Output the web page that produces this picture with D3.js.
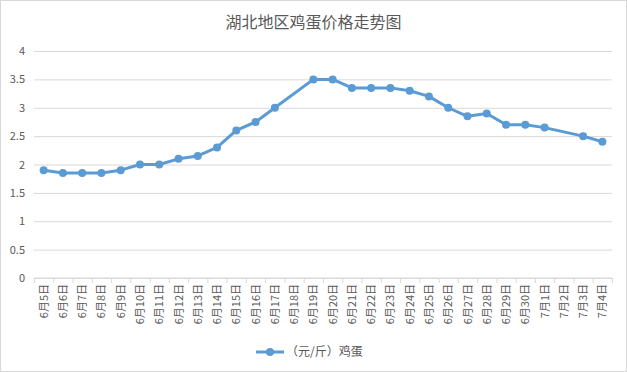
<!DOCTYPE html>
<html>
<head>
<meta charset="utf-8">
<script src="https://cdn.jsdelivr.net/npm/d3@7"></script>
<style>
  body { margin: 0; background: #fff; }
  text { font-family: "Noto Sans CJK SC", "Noto Sans", sans-serif; fill: #595959; }
</style>
</head>
<body>
<div id="chart"></div>
<script>
// categories along the bottom, one per day
const dates = ["6月5日","6月6日","6月7日","6月8日","6月9日","6月10日","6月11日","6月12日","6月13日","6月14日",
  "6月15日","6月16日","6月17日","6月18日","6月19日","6月20日","6月21日","6月22日","6月23日","6月24日",
  "6月25日","6月26日","6月27日","6月28日","6月29日","6月30日","7月1日","7月2日","7月3日","7月4日"]
// price in yuan per jin, null = no reading that day
const prices = [1.9,1.85,1.85,1.85,1.9,2.0,2.0,2.1,2.15,2.3,
  2.6,2.75,3.0,null,3.5,3.5,3.35,3.35,3.35,3.3,
  3.2,3.0,2.85,2.9,2.7,2.7,2.65,null,2.5,2.4]
const yTicks = [0,0.5,1,1.5,2,2.5,3,3.5,4]
const seriesName = "（元/斤）鸡蛋"
const title = "湖北地区鸡蛋价格走势图"

const W = 627, H = 372
const margin = {top: 51, right: 15, bottom: 94, left: 34}
const width = W - margin.left - margin.right
const height = H - margin.top - margin.bottom
const blue = "#5B9BD5"

const svg = d3.select("#chart").append("svg")
    .attr("width", W).attr("height", H)

// outer chart border
svg.append("rect")
    .attr("x", 0.5).attr("y", 0.5)
    .attr("width", W - 1).attr("height", H - 1)
    .attr("fill", "#fff").attr("stroke", "#d9d9d9")

svg.append("text")
    .attr("x", W / 2).attr("y", 28)
    .attr("text-anchor", "middle")
    .style("font-size", "16px")
    .text(title)

const g = svg.append("g").attr("transform", `translate(${margin.left},${margin.top})`)

const x = d3.scaleBand().domain(dates).range([0, width])
const y = d3.scaleLinear().domain([0, 4]).range([height, 0])

// gridlines
g.append("g")
    .call(d3.axisLeft(y).tickValues(yTicks).tickSize(-width).tickFormat(""))
    .call(s => s.select(".domain").remove())
    .selectAll("line").attr("stroke", "#d9d9d9")

// y labels
g.append("g")
    .call(d3.axisLeft(y).tickValues(yTicks).tickSize(0).tickPadding(9).tickFormat(d3.format("")))
    .call(s => s.select(".domain").remove())
    .selectAll("text").style("font-size", "11px").attr("fill", "#595959")

// x axis: ticks sit between categories
const xg = g.append("g").attr("transform", `translate(0,${height})`)
xg.append("line").attr("x1", 0).attr("x2", width).attr("stroke", "#d9d9d9")
xg.selectAll("line.tick")
  .data(dates.concat(["end"]))
  .enter().append("line")
    .attr("x1", (d, i) => i * x.bandwidth() + 0.5)
    .attr("x2", (d, i) => i * x.bandwidth() + 0.5)
    .attr("y1", 0).attr("y2", 5)
    .attr("stroke", "#d9d9d9")
xg.selectAll("text")
  .data(dates)
  .enter().append("text")
    .attr("transform", d => `translate(${x(d) + x.bandwidth() / 2 + 4},6)rotate(-90)`)
    .attr("text-anchor", "end")
    .style("font-size", "11px")
    .text(d => d)

// line, connecting across missing days
const pts = dates.map((d, i) => ({d, v: prices[i]})).filter(p => p.v != null)
const line = d3.line()
    .x(p => x(p.d) + x.bandwidth() / 2)
    .y(p => y(p.v))

g.append("path")
    .datum(pts)
    .attr("d", line)
    .attr("fill", "none")
    .attr("stroke", blue)
    .attr("stroke-width", 3)
    .attr("stroke-linejoin", "round")

g.selectAll("circle")
  .data(pts)
  .enter().append("circle")
    .attr("cx", p => x(p.d) + x.bandwidth() / 2)
    .attr("cy", p => y(p.v))
    .attr("r", 4)
    .attr("fill", blue)

// legend
const lg = svg.append("g").attr("transform", "translate(256,352)")
lg.append("line").attr("x1", 0).attr("x2", 28).attr("stroke", blue).attr("stroke-width", 3)
lg.append("circle").attr("cx", 14).attr("r", 4).attr("fill", blue)
lg.append("text").attr("x", 30).attr("y", 4).style("font-size", "12px").text(seriesName)
</script>
</body>
</html>
